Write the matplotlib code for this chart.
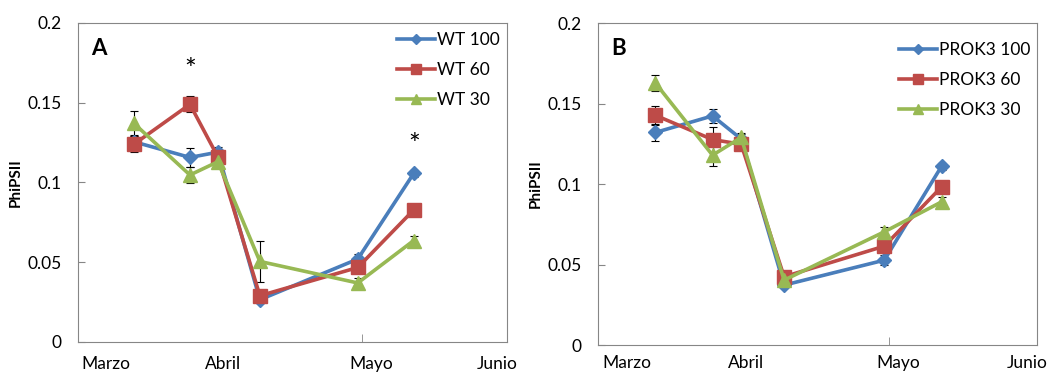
import numpy as np
import pandas as pd
import matplotlib
matplotlib.use("Agg")
import matplotlib.pyplot as plt
import matplotlib.dates as mdates

plt.rcParams['font.family'] = ['Lato', 'DejaVu Sans']

# sampling dates (same for both panels)
dates = pd.to_datetime(["2012-03-13", "2012-03-25", "2012-03-31",
                        "2012-04-09", "2012-04-30", "2012-05-12"])
month_labels = ["Marzo", "Abril", "Mayo", "Junio"]

# panel A: WT
wt_labels = ["WT 100", "WT 60", "WT 30"]
wt_100 = [0.1255, 0.1157, 0.119, 0.0265, 0.052, 0.1057]
wt_60 = [0.124, 0.149, 0.116, 0.029, 0.0467, 0.0828]
wt_30 = [0.137, 0.1047, 0.113, 0.0505, 0.037, 0.0636]
wt_100_err = [0.004, 0.006, 0.003, 0.002, 0.003, 0.002]
wt_60_err = [0.005, 0.005, 0.003, 0.003, 0.003, 0.002]
wt_30_err = [0.008, 0.005, 0.003, 0.0128, 0.003, 0.003]

# panel B: PROK3
pk_labels = ["PROK3 100", "PROK3 60", "PROK3 30"]
pk_100 = [0.132, 0.1423, 0.128, 0.0372, 0.0527, 0.111]
pk_60 = [0.1427, 0.1276, 0.1247, 0.0424, 0.0614, 0.0982]
pk_30 = [0.1628, 0.1179, 0.1289, 0.0403, 0.0703, 0.0889]
pk_100_err = [0.005, 0.0045, 0.003, 0.002, 0.003, 0.002]
pk_60_err = [0.006, 0.008, 0.003, 0.003, 0.003, 0.002]
pk_30_err = [0.005, 0.007, 0.003, 0.003, 0.003, 0.003]

colors = ["#4A7EBB", "#BE4B48", "#98B954"]
markers = ["D", "s", "^"]
msizes = [7, 10, 10]

fig = plt.figure(figsize=(10.59, 3.74), dpi=100)
axA = fig.add_axes([0.0737, 0.0856, 0.405, 0.853])
axB = fig.add_axes([0.5647, 0.0775, 0.4145, 0.861])

x0 = mdates.date2num(pd.Timestamp("2012-03-01"))
x1 = mdates.date2num(pd.Timestamp("2012-06-01"))
month_ticks = mdates.date2num(pd.to_datetime(["2012-04-01", "2012-05-01"]))
label_pos = mdates.date2num(pd.to_datetime(["2012-03-07", "2012-04-01",
                                            "2012-05-03", "2012-05-30"]))


def draw(ax, series, errs, labels, letter, leg_anchor, xpad):
    for ys, es, lab, c, m, ms in zip(series, errs, labels, colors, markers, msizes):
        ax.errorbar(dates, ys, yerr=es, color=c, ecolor="black", elinewidth=0.8,
                    capsize=3, capthick=0.8, zorder=2)
        ax.plot(dates, ys, color=c, marker=m, markersize=ms, lw=2.6,
                label=lab, zorder=3)
    ax.set_xlim(x0, x1)
    ax.set_ylim(0, 0.2)
    ax.set_yticks([0, 0.05, 0.1, 0.15, 0.2])
    ax.set_yticklabels(["0", "0.05", "0.1", "0.15", "0.2"])
    ax.set_xticks(label_pos)
    ax.set_xticklabels(month_labels)
    ax.set_xticks(month_ticks, minor=True)
    ax.tick_params(axis="x", which="major", length=0, pad=xpad, labelsize=12.5)
    ax.tick_params(axis="x", which="minor", direction="in", length=6,
                   color="#868686")
    ax.tick_params(axis="y", direction="in", length=5, color="#868686",
                   labelsize=12.5, pad=12)
    for s in ax.spines.values():
        s.set_color("#868686")
    ax.set_ylabel("PhiPSII", fontweight="bold", fontsize=11, labelpad=3)
    ax.text(0.03, 0.9, letter, transform=ax.transAxes, fontsize=16,
            fontweight="bold")
    h, l = ax.get_legend_handles_labels()
    ax.legend(h, l, loc="upper right", bbox_to_anchor=leg_anchor, frameon=False,
              fontsize=12.5, labelspacing=0.8, handlelength=2.2,
              handletextpad=0.1, markerscale=0.75)


draw(axA, [wt_100, wt_60, wt_30], [wt_100_err, wt_60_err, wt_30_err],
     wt_labels, "A", (1.02, 1.02), 10)
draw(axB, [pk_100, pk_60, pk_30], [pk_100_err, pk_60_err, pk_30_err],
     pk_labels, "B", (1.02, 0.99), 7)

# significance marks
axA.text(dates[1], 0.162, "*", ha="center", va="bottom", fontsize=20)
axA.text(dates[5], 0.115, "*", ha="center", va="bottom", fontsize=20)

fig.savefig("out.png", dpi=100)
